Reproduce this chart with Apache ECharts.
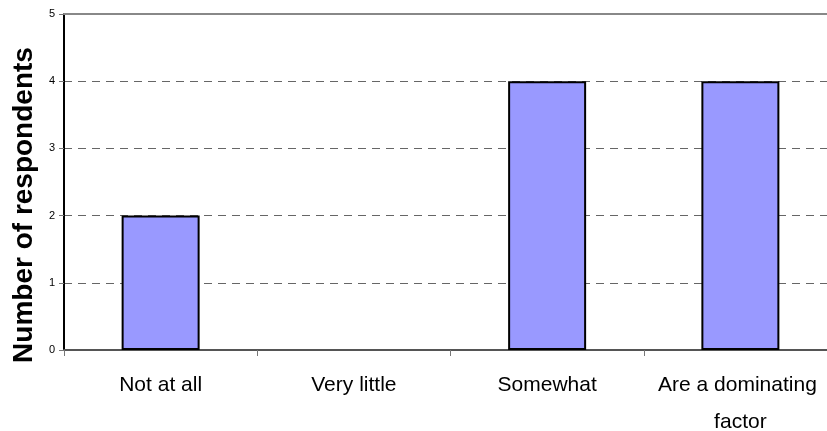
<!DOCTYPE html>
<html>
<head>
<meta charset="utf-8">
<script src="https://cdn.jsdelivr.net/npm/echarts@6/dist/echarts.min.js"></script>
<style>
  html, body { margin: 0; padding: 0; background: #ffffff; }
  #chart { width: 827px; height: 431px; }
</style>
</head>
<body>
<div id="chart"></div>
<script>
// Survey answers and how many respondents gave each
const categories = ['Not at all', 'Very little', 'Somewhat', 'Are a dominating factor'];
const respondents = [2, 0, 4, 4];
const yTicks = [0, 1, 2, 3, 4, 5];
const yAxisTitle = 'Number of respondents';

const FONT = '"Liberation Sans", Arial, sans-serif';

const chart = echarts.init(document.getElementById('chart'), null, { renderer: 'canvas' });

// empty answers get no outline, so nothing is drawn for them
const barData = respondents.map(v => (v === 0 ? { value: v, itemStyle: { borderWidth: 0 } } : v));

chart.setOption({
  animation: false,
  backgroundColor: '#ffffff',
  // the plot runs slightly past the right edge of the canvas
  grid: {
    left: 64, top: 14, height: 336, width: 773,
    containLabel: false,
    outerBoundsMode: 'none'
  },
  xAxis: [
    {
      type: 'category',
      data: categories,
      position: 'bottom',
      axisLine: { show: true, lineStyle: { color: '#555555', width: 2 } },
      axisTick: { show: true, alignWithLabel: false, length: 6, lineStyle: { color: '#777777', width: 1 } },
      axisLabel: {
        color: '#000000',
        fontFamily: FONT,
        fontSize: 21,
        lineHeight: 37,
        margin: 17,
        interval: 0,
        width: 178,
        overflow: 'break',
        hideOverlap: false
      },
      splitLine: { show: false }
    },
    {
      // solid border along the top of the plot
      type: 'category',
      data: categories,
      position: 'top',
      axisLine: { show: true, lineStyle: { color: '#888888', width: 2 } },
      axisTick: { show: false },
      axisLabel: { show: false },
      splitLine: { show: false }
    }
  ],
  yAxis: {
    type: 'value',
    min: yTicks[0],
    max: yTicks[yTicks.length - 1],
    interval: 1,
    axisLine: { show: true, lineStyle: { color: '#000000', width: 2 } },
    axisTick: { show: true, length: 5, lineStyle: { color: '#777777', width: 1 } },
    axisLabel: { color: '#000000', fontFamily: FONT, fontSize: 11, margin: 9 },
    splitLine: {
      show: true,
      lineStyle: { color: '#666666', width: 1, type: [8, 6] }
    }
  },
  graphic: [
    {
      type: 'text',
      x: 24,
      y: 205,
      rotation: Math.PI / 2,
      style: {
        text: yAxisTitle,
        fontFamily: FONT,
        fontSize: 28,
        fontWeight: 'bold',
        fill: '#000000',
        textAlign: 'center',
        textVerticalAlign: 'middle'
      }
    }
  ],
  series: [
    {
      type: 'bar',
      xAxisIndex: 0,
      data: barData,
      barWidth: 78,
      itemStyle: {
        color: '#9999ff',
        borderColor: '#000000',
        borderWidth: 2
      },
      emphasis: { disabled: true },
      silent: true
    }
  ]
});
</script>
</body>
</html>
